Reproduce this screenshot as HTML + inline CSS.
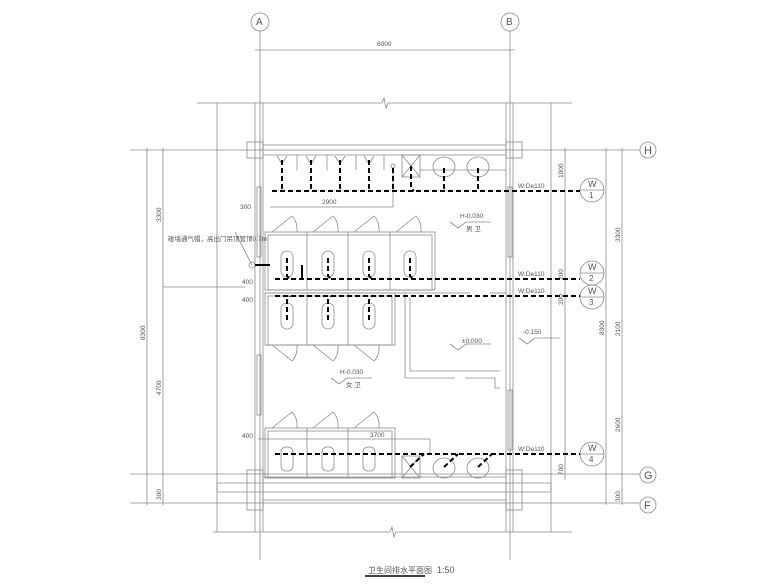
<!DOCTYPE html>
<html><head><meta charset="utf-8"><style>
html,body{margin:0;padding:0;background:#fff}
svg{display:block}
text{font-family:"Liberation Sans","Noto Sans CJK SC",sans-serif;fill:#555}
</style></head><body>
<svg width="780" height="585" viewBox="0 0 780 585" xmlns="http://www.w3.org/2000/svg">
<g stroke="#8a8a8a" stroke-width="0.8" fill="none">
<!-- axis A/B -->
<circle cx="260" cy="22" r="9"/><circle cx="510" cy="22" r="9"/>
<line x1="260" y1="31" x2="260" y2="560"/><line x1="510" y1="31" x2="510" y2="560"/>
<line x1="255" y1="50" x2="515" y2="50"/>
<!-- break lines -->
<polyline points="197,103 382,103 384,98 386,108 388,103 572,103"/>
<polyline points="213,532 390,532 392,527 394,537 396,532 572,532"/>
<!-- outer verticals -->
<line x1="217" y1="103" x2="217" y2="532"/><line x1="551" y1="103" x2="551" y2="532"/>
<!-- walls -->
<line x1="255" y1="103" x2="255" y2="532"/><line x1="263" y1="103" x2="263" y2="532"/>
<line x1="506" y1="103" x2="506" y2="532"/><line x1="513" y1="103" x2="513" y2="532"/>
<rect x="247" y="142" width="16" height="16"/><rect x="506" y="142" width="16" height="16"/>
<rect x="247" y="470" width="16" height="40"/><rect x="506" y="470" width="16" height="40"/>
<line x1="263" y1="145" x2="506" y2="145"/><line x1="263" y1="155" x2="506" y2="155"/>
<line x1="217" y1="483" x2="551" y2="483"/><line x1="263" y1="477" x2="506" y2="477"/>
<line x1="217" y1="492" x2="551" y2="492"/><line x1="263" y1="500" x2="506" y2="500"/>
<line x1="217" y1="483" x2="217" y2="492"/><line x1="551" y1="483" x2="551" y2="492"/>
<!-- axis H/G/F -->
<line x1="130" y1="150" x2="640" y2="150"/><circle cx="648" cy="150" r="8"/><text x="644" y="154" font-size="11" stroke="none">H</text>
<line x1="130" y1="474" x2="640" y2="474"/><circle cx="648" cy="475" r="8"/><text x="644" y="479" font-size="11" stroke="none">G</text>
<line x1="130" y1="503" x2="640" y2="503"/><circle cx="648" cy="505" r="8"/><text x="644" y="509" font-size="11" stroke="none">F</text>
<!-- windows in walls -->
<rect x="257" y="187" width="4" height="70"/><rect x="508" y="187" width="4" height="70"/>
<rect x="257" y="355" width="4" height="60"/><rect x="508" y="390" width="4" height="60"/>
<!-- dimension lines -->
<line x1="147" y1="148" x2="147" y2="505"/><line x1="163" y1="148" x2="163" y2="505"/>
<line x1="163" y1="287" x2="245" y2="287"/>
<line x1="565" y1="148" x2="565" y2="480"/><line x1="606" y1="148" x2="606" y2="505"/><line x1="622" y1="148" x2="622" y2="505"/>
<line x1="270" y1="207" x2="393" y2="207"/><line x1="393" y1="170" x2="393" y2="207"/>
<line x1="258" y1="439" x2="430" y2="439"/><line x1="430" y1="439" x2="430" y2="455"/>
<!-- urinals -->
<path d="M277,156 l5,8 l5,-8"/><path d="M306,156 l5,8 l5,-8"/><path d="M335,156 l5,8 l5,-8"/><path d="M364,156 l5,8 l5,-8"/>
<line x1="297" y1="155" x2="297" y2="170"/><line x1="327" y1="155" x2="327" y2="170"/><line x1="356" y1="155" x2="356" y2="170"/><line x1="384" y1="155" x2="384" y2="170"/>
<circle cx="393" cy="166" r="2"/>
<rect x="402" y="155" width="18" height="22"/><line x1="402" y1="155" x2="420" y2="177"/><line x1="420" y1="155" x2="402" y2="177"/>
<line x1="420" y1="170" x2="506" y2="170"/>
<ellipse cx="444" cy="167" rx="11" ry="10"/><ellipse cx="478" cy="167" rx="11" ry="10"/>
<!-- upper stalls -->
<rect x="265" y="232" width="170" height="58"/><rect x="268" y="235" width="164" height="55"/>
<line x1="307" y1="232" x2="307" y2="290"/><line x1="348" y1="232" x2="348" y2="290"/><line x1="390" y1="232" x2="390" y2="290"/>
<path d="M272,232 L292,216 a10,16 0 0 1 5,16"/><path d="M313,232 L333,216 a10,16 0 0 1 5,16"/><path d="M354,232 L374,216 a10,16 0 0 1 5,16"/><path d="M396,232 L416,216 a10,16 0 0 1 5,16"/>
<rect x="281" y="251" width="12" height="26" rx="6"/><rect x="322" y="251" width="12" height="26" rx="6"/><rect x="363" y="251" width="12" height="26" rx="6"/><rect x="404" y="251" width="12" height="26" rx="6"/>
<line x1="265" y1="293" x2="470" y2="293"/><line x1="490" y1="293" x2="506" y2="293"/>
<!-- lower stalls -->
<rect x="265" y="293" width="130" height="52"/><rect x="268" y="296" width="124" height="49"/>
<line x1="307" y1="293" x2="307" y2="345"/><line x1="348" y1="293" x2="348" y2="345"/>
<path d="M272,345 L292,361 a10,16 0 0 0 5,-16"/><path d="M313,345 L333,361 a10,16 0 0 0 5,-16"/><path d="M354,345 L374,361 a10,16 0 0 0 5,-16"/>
<rect x="281" y="303" width="12" height="26" rx="6"/><rect x="322" y="303" width="12" height="26" rx="6"/><rect x="363" y="303" width="12" height="26" rx="6"/>
<!-- centre room -->
<path d="M405,293 V378 H455 M465,378 H495 V388 H500"/><path d="M410,298 V371 H500"/>
<!-- bottom stalls -->
<rect x="265" y="428" width="130" height="50"/><rect x="268" y="431" width="124" height="47"/>
<line x1="307" y1="428" x2="307" y2="478"/><line x1="348" y1="428" x2="348" y2="478"/>
<path d="M272,428 L292,412 a10,16 0 0 1 5,16"/><path d="M313,428 L333,412 a10,16 0 0 1 5,16"/><path d="M354,428 L374,412 a10,16 0 0 1 5,16"/>
<rect x="281" y="447" width="12" height="24" rx="5"/><rect x="322" y="447" width="12" height="24" rx="5"/><rect x="363" y="447" width="12" height="24" rx="5"/>
<rect x="402" y="456" width="18" height="22"/><line x1="402" y1="456" x2="420" y2="478"/><line x1="420" y1="456" x2="402" y2="478"/>
<ellipse cx="444" cy="468" rx="11" ry="10"/><ellipse cx="478" cy="468" rx="11" ry="10"/>
<!-- W circles -->
<circle cx="592" cy="190" r="12"/><line x1="580" y1="190" x2="604" y2="190"/>
<circle cx="592" cy="273" r="12"/><line x1="580" y1="273" x2="604" y2="273"/>
<circle cx="592" cy="297" r="12"/><line x1="580" y1="297" x2="604" y2="297"/>
<circle cx="592" cy="454" r="12"/><line x1="580" y1="454" x2="604" y2="454"/>
<!-- elevation marks -->
<path d="M450,222 l8,6 l8,-6 h25"/><path d="M519,338 l8,6 l8,-6 h25"/><path d="M450,344 l8,6 l8,-6 h25"/><path d="M331,378 l8,6 l8,-6 h25"/>
<circle cx="252" cy="265" r="3"/><line x1="252" y1="265" x2="235" y2="232"/>
<line x1="365" y1="576" x2="425" y2="576" stroke="#000" stroke-width="1.5"/>
</g>
<!-- pipes -->
<g stroke="#000" stroke-width="2" fill="none" stroke-dasharray="5,3">
<line x1="272" y1="191" x2="580" y2="191"/>
<line x1="275" y1="279" x2="580" y2="279"/>
<line x1="275" y1="296" x2="580" y2="296"/>
<line x1="275" y1="454" x2="580" y2="454"/>
<path d="M282,160 V188 l3,3"/><path d="M311,160 V188 l3,3"/><path d="M340,160 V188 l3,3"/><path d="M369,160 V188 l3,3"/><path d="M393,168 V188 l3,3"/><path d="M411,166 V188 l3,3"/><path d="M444,168 V188 l3,3"/><path d="M478,168 V188 l3,3"/>
<path d="M287,258 V276 l3,3"/><path d="M328,258 V276 l3,3"/><path d="M369,258 V276 l3,3"/><path d="M410,258 V276 l3,3"/>
<path d="M287,320 V300 l3,-4"/><path d="M328,320 V300 l3,-4"/><path d="M369,320 V300 l3,-4"/>
<path d="M410,467 l14,-13"/><path d="M444,467 l14,-13"/><path d="M478,467 l14,-13"/>
</g>
<line x1="255" y1="265" x2="270" y2="265" stroke="#000" stroke-width="2"/>
<line x1="302" y1="265" x2="302" y2="280" stroke="#000" stroke-width="2"/>
<g font-size="6.5" stroke="none">
<text x="377" y="46">6000</text>
<text x="322" y="204">2900</text>
<text x="370" y="437">3700</text>
<text x="240" y="209">300</text><text x="242" y="284">400</text><text x="242" y="302">400</text><text x="242" y="438">400</text>
<text x="168" y="241">碰墙通气帽，高出门吊顶管顶0.7m</text>
<text x="518" y="188">W:De110</text><text x="518" y="276">W:De110</text><text x="518" y="293">W:De110</text><text x="518" y="451">W:De110</text>
<text x="460" y="218">H-0.030</text><text x="466" y="231">男 卫</text>
<text x="523" y="334">-0.150</text><text x="462" y="343">±0.000</text>
<text x="340" y="374">H-0.030</text><text x="346" y="387">女 卫</text>
<text x="588" y="187" font-size="9">W</text><text x="589" y="198" font-size="8">1</text>
<text x="588" y="270" font-size="9">W</text><text x="589" y="281" font-size="8">2</text>
<text x="588" y="294" font-size="9">W</text><text x="589" y="305" font-size="8">3</text>
<text x="588" y="451" font-size="9">W</text><text x="589" y="462" font-size="8">4</text>
<text x="256" y="25" font-size="10">A</text><text x="506" y="25" font-size="10">B</text>
<text x="368" y="573" font-size="8">卫生间排水平面图</text><text x="437" y="573" font-size="9">1:50</text>
</g>
<g font-size="6.5" stroke="none">
<text transform="translate(161,222) rotate(-90)">3300</text>
<text transform="translate(145,340) rotate(-90)">8300</text>
<text transform="translate(161,395) rotate(-90)">4700</text>
<text transform="translate(161,500) rotate(-90)">300</text>
<text transform="translate(563,178) rotate(-90)">1000</text>
<text transform="translate(620,242) rotate(-90)">3300</text>
<text transform="translate(604,335) rotate(-90)">8300</text>
<text transform="translate(563,280) rotate(-90)">200</text>
<text transform="translate(563,305) rotate(-90)">200</text>
<text transform="translate(620,336) rotate(-90)">2100</text>
<text transform="translate(620,432) rotate(-90)">2600</text>
<text transform="translate(563,475) rotate(-90)">700</text>
<text transform="translate(620,502) rotate(-90)">300</text>
</g>
</svg>
</body></html>
